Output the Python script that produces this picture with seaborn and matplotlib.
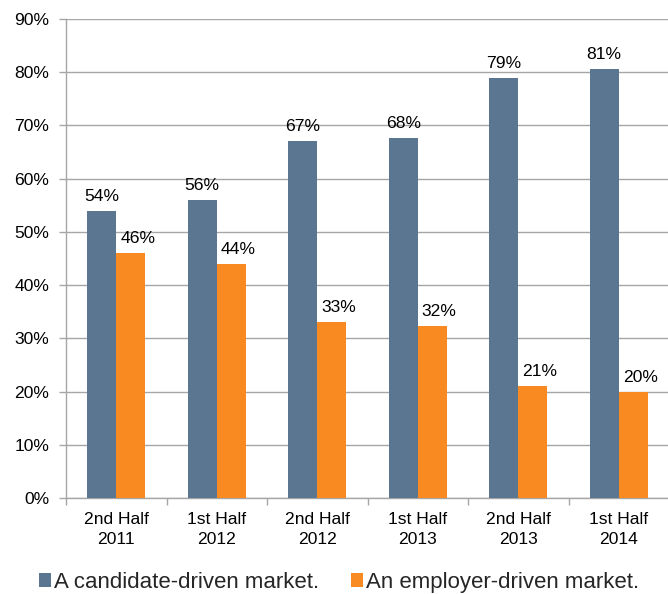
import matplotlib
matplotlib.use("Agg")
import matplotlib.pyplot as plt
import seaborn as sns
import pandas as pd
from matplotlib.ticker import FixedLocator, FuncFormatter

periods = ["2nd Half\n2011", "1st Half\n2012", "2nd Half\n2012",
           "1st Half\n2013", "2nd Half\n2013", "1st Half\n2014"]
series_names = ["A candidate-driven market.", "An employer-driven market."]
candidate_pct = [54, 56, 67, 67.6, 79, 80.6]
employer_pct = [46, 44, 33, 32.3, 21, 20]
colors = ["#5B7690", "#F98A22"]

df = pd.DataFrame({
    "period": periods * 2,
    "series": [series_names[0]] * len(periods) + [series_names[1]] * len(periods),
    "pct": candidate_pct + employer_pct,
})

sns.set_style("white")
plt.rcParams["font.family"] = ["Liberation Sans", "DejaVu Sans"]

fig = plt.figure(figsize=(6.68, 5.94), dpi=100)
ax = fig.add_axes([66 / 668, 1 - 498 / 594, 603 / 668, (498 - 19) / 594])

sns.barplot(data=df, x="period", y="pct", hue="series", order=periods,
            hue_order=series_names, palette=colors, width=0.58,
            saturation=1, linewidth=0, ax=ax, legend=True, zorder=3)

ax.set_ylim(0, 90)
ax.set_xlim(-0.5, len(periods) - 0.5)
ax.set_yticks(range(0, 91, 10))
ax.yaxis.set_major_formatter(FuncFormatter(lambda v, _: f"{v:.0f}%"))
ax.grid(axis="y", color="#A6A6A6", linewidth=1.0, zorder=0)
ax.set_axisbelow(True)
ax.set_xlabel("")
ax.set_ylabel("")

for s in ["top", "right"]:
    ax.spines[s].set_visible(False)
for s in ["left", "bottom"]:
    ax.spines[s].set_color("#A6A6A6")
    ax.spines[s].set_linewidth(1.0)

ax.tick_params(axis="y", length=5, width=1.0, color="#A6A6A6", pad=7,
               labelsize=12.6, labelcolor="#000000", left=True)
ax.tick_params(axis="x", which="major", length=0, pad=10, labelsize=12.6,
               labelcolor="#000000")
ax.xaxis.set_minor_locator(FixedLocator([i - 0.5 for i in range(len(periods) + 1)]))
ax.tick_params(axis="x", which="minor", length=5, width=1.0, color="#A6A6A6",
               bottom=True)
for lbl in ax.get_xticklabels():
    lbl.set_linespacing(1.4)

# value labels; the employer-series labels sit a touch right of their bars
for i, container in enumerate(ax.containers):
    texts = ax.bar_label(container, fmt="%.0f%%", padding=5, fontsize=12.6,
                         color="#000000")
    if i == 1:
        for t in texts:
            t.xyann = (5, 5)

handles, labels = ax.get_legend_handles_labels()
ax.legend_.remove()
fig.legend(handles, labels, loc="center", bbox_to_anchor=(0.5075, 1 - 582.5 / 594),
           ncol=2, frameon=False, fontsize=16, handlelength=0.55,
           handleheight=0.55, handletextpad=0.15, columnspacing=1.4,
           borderaxespad=0)

fig.savefig("out.png", dpi=100)
